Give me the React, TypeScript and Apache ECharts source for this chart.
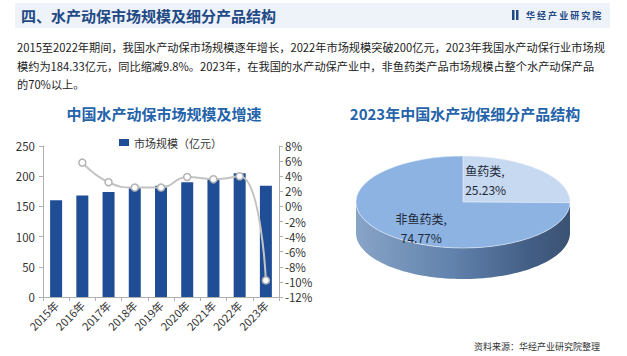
import React, { useEffect, useRef } from "react";
import * as echarts from "echarts";

// ---------- data ----------
const years = ["2015年", "2016年", "2017年", "2018年", "2019年", "2020年", "2021年", "2022年", "2023年"];
const marketSize = [160, 168, 174, 180, 184, 190, 196, 205, 184.33];
const growthRate: (number | null)[] = [null, 5.8, 3.2, 2.5, 2.5, 3.9, 3.6, 4.0, -9.8];
const leftAxis = { min: 0, max: 250, interval: 50 };
const rightAxis = { min: -12, max: 8, interval: 2 };
const barName = "市场规模（亿元）";
const lineName = "增速";
const pieNames = ["鱼药类", "非鱼药类"];
const pieValues = [25.23, 74.77];

const headerTitle = "四、水产动保市场规模及细分产品结构";
const bodyLines = [
  "2015至2022年期间，我国水产动保市场规模逐年增长，2022年市场规模突破200亿元，2023年我国水产动保行业市场规",
  "模约为184.33亿元，同比缩减9.8%。2023年，在我国的水产动保产业中，非鱼药类产品市场规模占整个水产动保产品",
  "的70%以上。",
];
const leftTitle = "中国水产动保市场规模及增速";
const rightTitle = "2023年中国水产动保细分产品结构";
const sourceText = "资料来源：华经产业研究院整理";
const logoText = "华 经 产 业 研 究 院";

// ---------- style / layout ----------
const FONT = "'Noto Sans CJK SC', 'Noto Sans', sans-serif";
const BAR_COLOR = "#1f4e96";
const TITLE_BLUE = "#2563aa";
const HEADER_BLUE = "#1f4a86";
const pieColors = ["#c6d9f1", "#8db3e2"];
const PIE = { cx: 463, cy: 202, rx: 107, ry: 46, depth: 31 };
const pieLabelLayout = [
  { fx: 0.02, fy: -0.47, align: "left" },
  { fx: -0.39, fy: 0.57, align: "center" },
];

export default function App() {
  const ref = useRef<HTMLDivElement>(null);

  useEffect(() => {
    if (!ref.current) return;
    const chart = echarts.init(ref.current, undefined, { renderer: "svg" });
    const total = pieValues.reduce((a, b) => a + b, 0);

    const sideGradient = () =>
      new echarts.graphic.LinearGradient(0, 0, 1, 0, [
        { offset: 0, color: "#88a4c7" },
        { offset: 0.45, color: "#6182ac" },
        { offset: 0.8, color: "#445f86" },
        { offset: 1, color: "#3a5273" },
      ]);

    const renderPie = (params: any, api: any) => {
      const i = params.dataIndex;
      const v = api.value(0) as number;
      let before = 0;
      for (let k = 0; k < i; k++) before += pieValues[k];
      const start = -Math.PI / 2 + (2 * Math.PI * before) / total;
      const end = start + (2 * Math.PI * v) / total;
      const { cx, cy, rx, ry, depth } = PIE;
      const children: any[] = [];
      const lo = Math.max(start, 0);
      const hi = Math.min(end, Math.PI);
      if (hi > lo) {
        const pts: number[][] = [];
        const n = 80;
        for (let k = 0; k <= n; k++) {
          const t = lo + ((hi - lo) * k) / n;
          pts.push([cx + rx * Math.cos(t), cy + ry * Math.sin(t)]);
        }
        for (let k = n; k >= 0; k--) {
          const t = lo + ((hi - lo) * k) / n;
          pts.push([cx + rx * Math.cos(t), cy + ry * Math.sin(t) + depth]);
        }
        children.push({
          type: "polygon",
          shape: { points: pts },
          style: { fill: sideGradient() },
          z2: 1,
        });
      }
      children.push({
        type: "sector",
        x: cx,
        y: cy,
        scaleY: ry / rx,
        shape: { cx: 0, cy: 0, r: rx, r0: 0, startAngle: start, endAngle: end, clockwise: true },
        style: { fill: pieColors[i], stroke: "#e8eef7", lineWidth: 0.8, strokeNoScale: true },
        z2: 10,
      });
      const lay = pieLabelLayout[i];
      children.push({
        type: "text",
        x: cx + lay.fx * rx,
        y: cy + lay.fy * ry,
        style: {
          text: `${pieNames[i]},\n${v.toFixed(2)}%`,
          fill: "#1e2836",
          font: `12px ${FONT}`,
          align: lay.align,
          verticalAlign: "middle",
          lineHeight: 19,
        },
        z2: 20,
      });
      return { type: "group", children };
    };

    const graphics: any[] = [
      { type: "rect", shape: { x: 15, y: 3, width: 595, height: 25 }, style: { fill: "#eef2f9" }, z: -1 },
      {
        type: "text",
        x: 21,
        y: 15.5,
        style: { text: headerTitle, font: `bold 15px ${FONT}`, fill: HEADER_BLUE, verticalAlign: "middle" },
      },
      { type: "rect", shape: { x: 512, y: 10, width: 2.5, height: 10 }, style: { fill: HEADER_BLUE } },
      { type: "rect", shape: { x: 516, y: 10, width: 2.5, height: 10 }, style: { fill: HEADER_BLUE } },
      {
        type: "text",
        x: 526,
        y: 15.5,
        style: { text: logoText, font: `bold 9px ${FONT}`, fill: HEADER_BLUE, verticalAlign: "middle" },
      },
      ...bodyLines.map((t, i) => ({
        type: "text",
        x: 17,
        y: 47 + i * 18.5,
        style: { text: t, font: `11.2px ${FONT}`, fill: "#1c1c1c", verticalAlign: "middle" },
      })),
      {
        type: "text",
        x: 164,
        y: 113,
        style: { text: leftTitle, font: `bold 15px ${FONT}`, fill: TITLE_BLUE, align: "center", verticalAlign: "middle" },
      },
      {
        type: "text",
        x: 465,
        y: 113,
        style: { text: rightTitle, font: `bold 15px ${FONT}`, fill: TITLE_BLUE, align: "center", verticalAlign: "middle" },
      },
      {
        type: "text",
        x: 600,
        y: 346,
        style: { text: sourceText, font: `9px ${FONT}`, fill: "#333", align: "right", verticalAlign: "middle" },
      },
    ];

    chart.setOption({
      animation: false,
      backgroundColor: "#ffffff",
      textStyle: { fontFamily: FONT },
      grid: { left: 43, right: 348, top: 146, bottom: 59, containLabel: false },
      legend: {
        data: [barName],
        left: 114,
        top: 132,
        itemWidth: 10,
        itemHeight: 7,
        icon: "rect",
        textStyle: { fontSize: 11, color: "#333", fontFamily: FONT },
      },
      xAxis: {
        type: "category",
        data: years,
        axisLine: { lineStyle: { color: "#b0b0b0" } },
        axisTick: { show: true, length: 4, lineStyle: { color: "#b0b0b0" } },
        axisLabel: { rotate: 45, fontSize: 11, color: "#333", margin: 6, interval: 0 },
      },
      yAxis: [
        {
          type: "value",
          min: leftAxis.min,
          max: leftAxis.max,
          interval: leftAxis.interval,
          axisLine: { show: true, lineStyle: { color: "#b0b0b0" } },
          axisTick: { show: true, length: 4, lineStyle: { color: "#b0b0b0" } },
          axisLabel: { fontSize: 11.5, color: "#333", margin: 8 },
          splitLine: { show: false },
        },
        {
          type: "value",
          min: rightAxis.min,
          max: rightAxis.max,
          interval: rightAxis.interval,
          position: "right",
          axisLine: { show: true, lineStyle: { color: "#b0b0b0" } },
          axisTick: { show: true, length: 4, lineStyle: { color: "#b0b0b0" } },
          axisLabel: { fontSize: 11.5, color: "#333", margin: 6, formatter: "{value}%" },
          splitLine: { show: false },
        },
      ],
      series: [
        {
          name: barName,
          type: "bar",
          data: marketSize,
          barWidth: 12,
          itemStyle: { color: BAR_COLOR },
        },
        {
          name: lineName,
          type: "line",
          yAxisIndex: 1,
          data: growthRate,
          smooth: true,
          symbol: "circle",
          symbolSize: 7,
          lineStyle: { color: "#c3c3c3", width: 2 },
          itemStyle: { color: "#ffffff", borderColor: "#b3b3b3", borderWidth: 1.5 },
          z: 5,
        },
        {
          type: "custom",
          coordinateSystem: "none",
          renderItem: renderPie,
          data: pieValues.map((v) => [v]),
          silent: true,
        },
      ],
      graphic: graphics,
    });

    return () => chart.dispose();
  }, []);

  return (
    <div
      ref={ref}
      style={{ position: "fixed", left: 0, top: 0, width: 627, height: 356, background: "#fff" }}
    />
  );
}
